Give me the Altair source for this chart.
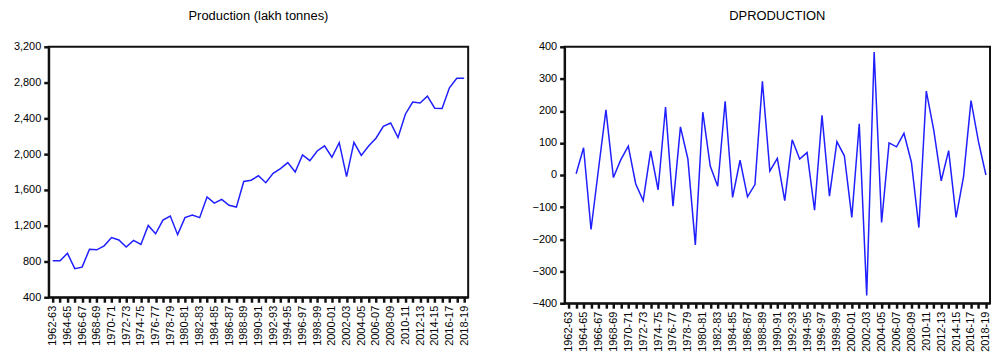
import altair as alt
import pandas as pd

years = ["1962-63","1963-64","1964-65","1965-66","1966-67","1967-68","1968-69","1969-70",
         "1970-71","1971-72","1972-73","1973-74","1974-75","1975-76","1976-77","1977-78",
         "1978-79","1979-80","1980-81","1981-82","1982-83","1983-84","1984-85","1985-86",
         "1986-87","1987-88","1988-89","1989-90","1990-91","1991-92","1992-93","1993-94",
         "1994-95","1995-96","1996-97","1997-98","1998-99","1999-00","2000-01","2001-02",
         "2002-03","2003-04","2004-05","2005-06","2006-07","2007-08","2008-09","2009-10",
         "2010-11","2011-12","2012-13","2013-14","2014-15","2015-16","2016-17","2017-18",
         "2018-19"]

production = [807, 807, 892, 720, 737, 937, 930, 975, 1068, 1040, 962, 1035, 990, 1202,
              1110, 1262, 1308, 1100, 1290, 1320, 1290, 1522, 1452, 1495, 1428, 1408, 1695,
              1708, 1758, 1680, 1785, 1838, 1905, 1800, 1992, 1927, 2035, 2093, 1965, 2128,
              1748, 2132, 1985, 2090, 2178, 2310, 2348, 2185, 2446, 2582, 2572, 2648, 2513,
              2510, 2742, 2848, 2848]

dproduction = [None, 4, 85, -170, 18, 203, -8, 48, 90, -28, -80, 75, -46, 212, -97, 150, 50,
               -218, 196, 28, -35, 230, -70, 46, -68, -30, 292, 12, 52, -80, 110, 50, 70,
               -110, 186, -66, 104, 60, -132, 160, -376, 384, -148, 100, 88, 130, 40, -164,
               262, 140, -18, 76, -132, -4, 232, 104, 0]

prod_ticks = [400, 800, 1200, 1600, 2000, 2400, 2800, 3200]
d_ticks = [-400, -300, -200, -100, 0, 100, 200, 300, 400]

df = pd.DataFrame({"year": years, "production": production, "dproduction": dproduction})

FONT = "Liberation Sans"
BLUE = "#1f1fff"
FRAME = "#111111"
label_expr = "toNumber(substring(datum.value, 0, 4)) % 2 == 0 ? datum.value : ''"

def x_axis():
    return alt.Axis(title=None, labelAngle=-90, labelExpr=label_expr, labelOverlap=False,
                    labelFont=FONT, labelFontSize=11, labelColor="#000", labelPadding=3,
                    ticks=True, tickSize=5, tickWidth=2.5, tickColor=FRAME,
                    domain=True, domainColor=FRAME, domainWidth=2,
                    grid=False, labelBaseline="middle")

def y_axis(values, fmt):
    return alt.Axis(title=None, values=values, format=fmt, labelFont=FONT, labelFontSize=11,
                    labelColor="#000", ticks=True, tickSize=5, tickWidth=2.5, tickColor=FRAME,
                    domain=True, domainColor=FRAME, domainWidth=2, grid=False,
                    minExtent=40, maxExtent=40, labelPadding=3)

left = alt.Chart(df).mark_line(color=BLUE, strokeWidth=1.5).encode(
    x=alt.X("year:N", sort=years, scale=alt.Scale(type="point", padding=0.55), axis=x_axis()),
    y=alt.Y("production:Q", scale=alt.Scale(domain=[400, 3200], nice=False, zero=False),
            axis=y_axis(prod_ticks, ",d")),
).properties(
    width=422, height=252,
    title=alt.TitleParams("Production (lakh tonnes)", font=FONT, fontSize=13,
                          fontWeight="normal", color="#000", frame="group", offset=18),
    view=alt.ViewBackground(stroke=FRAME, strokeWidth=2),
)

right = alt.Chart(df).mark_line(color=BLUE, strokeWidth=1.5).encode(
    x=alt.X("year:N", sort=years, scale=alt.Scale(type="point", padding=0.55), axis=x_axis()),
    y=alt.Y("dproduction:Q", scale=alt.Scale(domain=[-400, 400], nice=False),
            axis=y_axis(d_ticks, "d")),
).properties(
    width=428, height=258,
    title=alt.TitleParams("DPRODUCTION", font=FONT, fontSize=13, fontWeight="normal",
                          color="#000", frame="group", offset=18),
    view=alt.ViewBackground(stroke=FRAME, strokeWidth=2),
)

chart = alt.hconcat(left, right, spacing=54).properties(
    padding={"left": 8, "top": 8, "right": 0, "bottom": 0},
    background="white",
)

chart.save("out.html", embed_options={"renderer": "svg", "actions": False})
